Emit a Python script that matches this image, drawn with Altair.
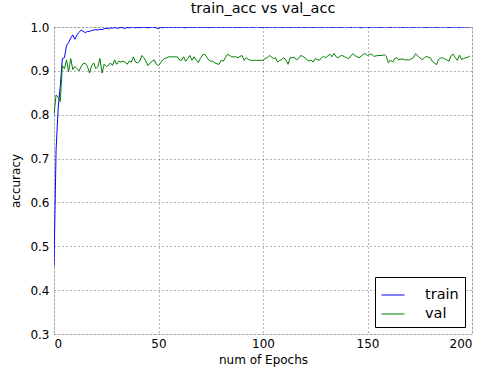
import altair as alt
import pandas as pd

epochs = list(range(200))

train_acc = [
    0.455, 0.72, 0.815, 0.865, 0.928, 0.93, 0.958, 0.965, 0.975, 0.982,
    0.972, 0.982, 0.988, 0.993, 0.99, 0.987, 0.99, 0.99, 0.992, 0.993,
    0.994, 0.993, 0.995, 0.994, 0.996, 0.997, 0.996, 0.998, 0.997, 0.999,
    0.997, 0.998, 0.999, 0.998, 0.997, 0.999, 0.998, 0.999, 1.0, 0.998,
    0.999, 0.998, 0.999, 1.0, 0.999, 0.998, 0.999, 1.0, 0.999, 0.998,
    0.996, 0.999, 0.998, 1.0, 0.999, 1.0, 0.999, 1.0, 0.999, 1.0,
    0.999, 1.0, 0.999, 0.998, 1.0, 0.999, 1.0, 0.999, 1.0, 1.0,
    0.999, 1.0, 0.999, 1.0, 0.998, 1.0, 0.999, 1.0, 1.0, 0.999,
    1.0, 0.999, 1.0, 1.0, 0.999, 1.0, 1.0, 0.999, 1.0, 0.999,
    1.0, 1.0, 0.999, 1.0, 1.0, 0.999, 1.0, 1.0, 1.0, 0.999,
    1.0, 1.0, 0.999, 1.0, 1.0, 1.0, 0.999, 1.0, 1.0, 0.999,
    1.0, 1.0, 1.0, 0.999, 1.0, 1.0, 1.0, 0.999, 1.0, 1.0,
    0.999, 1.0, 1.0, 1.0, 0.999, 1.0, 1.0, 1.0, 0.999, 1.0,
    1.0, 1.0, 1.0, 0.999, 1.0, 1.0, 1.0, 0.999, 1.0, 1.0,
    1.0, 1.0, 0.999, 1.0, 1.0, 1.0, 1.0, 0.998, 1.0, 1.0,
    1.0, 0.999, 1.0, 1.0, 1.0, 1.0, 0.999, 1.0, 1.0, 1.0,
    1.0, 0.999, 1.0, 1.0, 1.0, 1.0, 1.0, 0.999, 1.0, 1.0,
    1.0, 1.0, 0.999, 1.0, 1.0, 1.0, 1.0, 1.0, 0.999, 1.0,
    1.0, 1.0, 1.0, 0.999, 1.0, 1.0, 1.0, 1.0, 1.0, 0.999,
    1.0, 1.0, 1.0, 1.0, 0.999, 1.0, 1.0, 1.0, 1.0, 1.0,
]

val_acc = [
    0.80, 0.845, 0.84, 0.83, 0.912, 0.905, 0.925, 0.898, 0.928, 0.903,
    0.91, 0.905, 0.90, 0.91, 0.917, 0.917, 0.91, 0.895, 0.912, 0.918,
    0.905, 0.91, 0.928, 0.895, 0.915, 0.91, 0.912, 0.918, 0.912, 0.925,
    0.915, 0.922, 0.92, 0.922, 0.92, 0.915, 0.922, 0.92, 0.932, 0.92,
    0.918, 0.922, 0.935, 0.93, 0.922, 0.912, 0.918, 0.922, 0.925, 0.915,
    0.912, 0.918, 0.925, 0.928, 0.93, 0.932, 0.932, 0.932, 0.932, 0.932,
    0.925, 0.924, 0.932, 0.922, 0.928, 0.935, 0.924, 0.932, 0.925, 0.919,
    0.928, 0.936, 0.938, 0.932, 0.925, 0.922, 0.922, 0.918, 0.916, 0.915,
    0.924, 0.922, 0.93, 0.938, 0.935, 0.932, 0.932, 0.932, 0.93, 0.933,
    0.935, 0.924, 0.93, 0.926, 0.924, 0.924, 0.924, 0.924, 0.924, 0.924,
    0.924, 0.928, 0.93, 0.935, 0.932, 0.928, 0.93, 0.92, 0.924, 0.926,
    0.93, 0.924, 0.915, 0.93, 0.93, 0.931, 0.925, 0.928, 0.935, 0.933,
    0.93, 0.926, 0.922, 0.925, 0.92, 0.928, 0.926, 0.924, 0.93, 0.933,
    0.93, 0.934, 0.938, 0.932, 0.94, 0.932, 0.93, 0.934, 0.935, 0.932,
    0.93, 0.928, 0.934, 0.939, 0.935, 0.932, 0.93, 0.934, 0.938, 0.939,
    0.935, 0.938, 0.938, 0.933, 0.934, 0.935, 0.935, 0.935, 0.937, 0.933,
    0.918, 0.925, 0.92, 0.928, 0.93, 0.925, 0.927, 0.927, 0.925, 0.925,
    0.925, 0.928, 0.93, 0.939, 0.934, 0.93, 0.926, 0.928, 0.933, 0.931,
    0.93, 0.922, 0.918, 0.914, 0.926, 0.929, 0.93, 0.927, 0.925, 0.922,
    0.935, 0.938, 0.93, 0.924, 0.936, 0.926, 0.928, 0.93, 0.931, 0.934,
]

series_names = ["train", "val"]
series_colors = ["#0000ff", "#008000"]
y_ticks = [0.3, 0.4, 0.5, 0.6, 0.7, 0.8, 0.9, 1.0]
x_ticks = [0, 50, 100, 150, 200]

df = pd.concat([
    pd.DataFrame({"epoch": epochs, "acc": train_acc, "series": "train"}),
    pd.DataFrame({"epoch": epochs, "acc": val_acc, "series": "val"}),
])

FONT = "DejaVu Sans"

axis_common = dict(
    ticks=False, domain=False, grid=True,
    gridColor="#444444", gridDash=[1, 3], gridWidth=0.8,
    labelFont=FONT, titleFont=FONT, labelFontSize=12, titleFontSize=12,
    labelColor="#000000", titleColor="#000000", titleFontWeight="normal",
)

chart = alt.Chart(df).mark_line(strokeWidth=1, clip=True).encode(
    x=alt.X("epoch:Q",
            scale=alt.Scale(domain=[0, 200], nice=False, zero=False),
            axis=alt.Axis(title="num of Epochs", values=x_ticks, format="d",
                          labelPadding=4, titlePadding=5, **axis_common)),
    y=alt.Y("acc:Q",
            scale=alt.Scale(domain=[0.3, 1.0], nice=False, zero=False),
            axis=alt.Axis(title="accuracy", values=y_ticks, format=".1f",
                          labelPadding=5, titlePadding=7, **axis_common)),
    color=alt.Color("series:N",
                    scale=alt.Scale(domain=series_names, range=series_colors),
                    legend=alt.Legend(title=None, orient="bottom-right", offset=7,
                                      symbolType="stroke", symbolSize=529,
                                      symbolStrokeWidth=1, labelFontSize=14.5,
                                      labelOffset=20, rowPadding=0, padding=6,
                                      strokeColor="#000000", fillColor="#ffffff",
                                      labelColor="#000000", labelFont=FONT)),
).properties(
    width=418, height=307,
    title=alt.TitleParams("train_acc vs val_acc", fontSize=14.5, font=FONT,
                          fontWeight="normal", color="#000000", offset=5),
    autosize=alt.AutoSizeParams(type="none"),
    padding={"left": 54, "top": 27, "right": 11, "bottom": 36},
).configure_view(
    stroke="#000000", strokeWidth=1,
).configure(background="#ffffff")

chart.save("out.html", embed_options={"renderer": "svg", "actions": False})
